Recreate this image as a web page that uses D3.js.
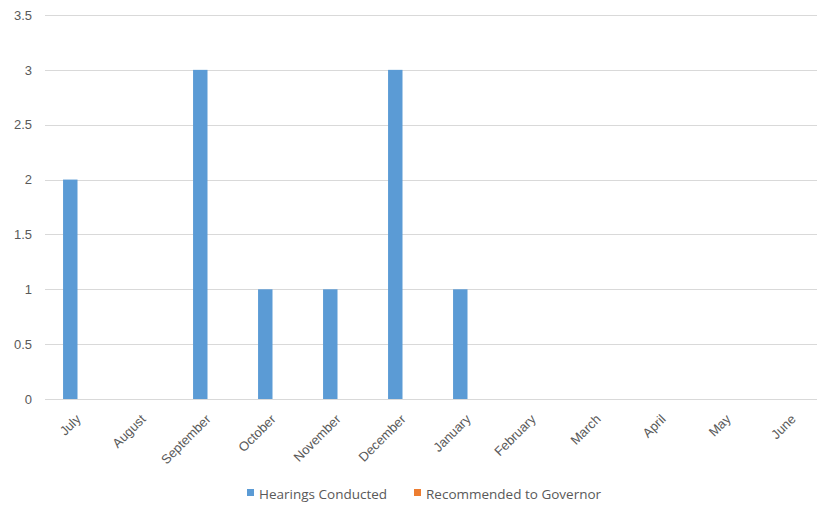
<!DOCTYPE html>
<html>
<head>
<meta charset="utf-8">
<script src="https://cdn.jsdelivr.net/npm/d3@7"></script>
<style>
  html, body { margin: 0; padding: 0; background: #fff; }
  svg { display: block; font-family: "Open Sans", "Noto Sans", sans-serif; }
</style>
</head>
<body>
<svg id="chart" width="817" height="507"></svg>
<script>
// Monthly counts, fiscal year July–June
const months = ["July", "August", "September", "October", "November", "December",
                "January", "February", "March", "April", "May", "June"];
const seriesNames = ["Hearings Conducted", "Recommended to Governor"];
const hearingsConducted = [2, 0, 3, 1, 1, 3, 1, 0, 0, 0, 0, 0];
const recommendedToGovernor = [0, 0, 0, 0, 0, 0, 0, 0, 0, 0, 0, 0];
const yTicks = [0, 0.5, 1, 1.5, 2, 2.5, 3, 3.5];
const colors = ["#5B9BD5", "#ED7D31"];

const svg = d3.select("#chart");
const plot = { left: 45, right: 825, top: 15, bottom: 399 };

const x = d3.scaleBand().domain(months).range([plot.left, plot.right])
  .paddingInner(0).paddingOuter(0);
// each category: gap of 2.5 bar widths split around two bars
const barW = x.bandwidth() / 4.5;
const xSub = d3.scaleBand().domain(seriesNames)
  .range([barW * 1.25, barW * 3.25]);

const y = d3.scaleLinear().domain([0, 3.5]).range([plot.bottom, plot.top]);

// gridlines
svg.append("g")
  .selectAll("line")
  .data(yTicks.filter(d => d > 0))
  .join("line")
  .attr("x1", plot.left).attr("x2", plot.right)
  .attr("y1", d => Math.round(y(d)) + 0.5).attr("y2", d => Math.round(y(d)) + 0.5)
  .attr("stroke", "#D9D9D9").attr("stroke-width", 1);

// y axis labels
const yAxis = d3.axisLeft(y).tickValues(yTicks).tickSize(0).tickPadding(13)
  .tickFormat(d3.format("~g"));
const gy = svg.append("g").attr("transform", `translate(${plot.left},0)`).call(yAxis);
gy.select(".domain").remove();
gy.selectAll("text").attr("fill", "#595959").attr("font-size", 13);

// bars
const seriesData = [hearingsConducted, recommendedToGovernor];
seriesData.forEach((vals, si) => {
  svg.append("g")
    .selectAll("rect")
    .data(vals.map((v, i) => ({ m: months[i], v })))
    .join("rect")
    .attr("x", d => x(d.m) + xSub(seriesNames[si]))
    .attr("width", xSub.bandwidth())
    .attr("y", d => y(d.v))
    .attr("height", d => y(0) - y(d.v))
    .attr("fill", colors[si]);
});

// baseline
svg.append("line")
  .attr("x1", plot.left).attr("x2", plot.right)
  .attr("y1", plot.bottom + 0.5).attr("y2", plot.bottom + 0.5)
  .attr("stroke", "#D9D9D9");

// x axis labels, rotated
const xAxis = d3.axisBottom(x).tickSize(0).tickPadding(0);
const gx = svg.append("g").attr("transform", `translate(0,${plot.bottom})`).call(xAxis);
gx.select(".domain").remove();
gx.selectAll("text")
  .attr("fill", "#595959").attr("font-size", 13)
  .attr("text-anchor", "end")
  .attr("dy", 0)
  .attr("transform", "translate(4,21) rotate(-45)");

// legend
const legend = svg.append("g").attr("transform", "translate(0,494)");
const legendX = [247, 414];
seriesNames.forEach((name, i) => {
  const g = legend.append("g").attr("transform", `translate(${legendX[i]},0)`);
  g.append("rect").attr("x", 0).attr("y", -5).attr("width", 7).attr("height", 7)
    .attr("fill", colors[i]);
  g.append("text").attr("x", 12).attr("y", 0).attr("dy", "0.35em")
    .attr("fill", "#595959").attr("font-size", 13.5).text(name);
});
</script>
</body>
</html>
